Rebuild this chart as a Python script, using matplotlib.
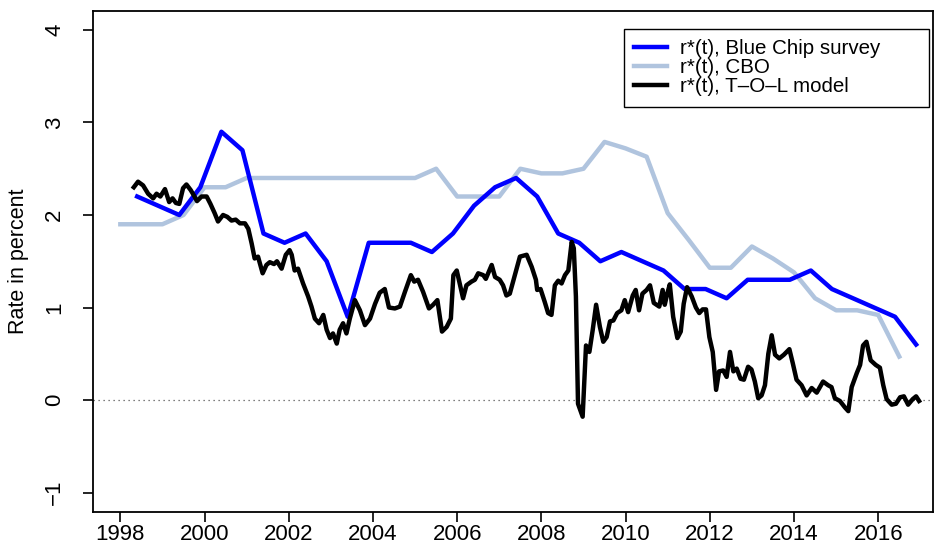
import matplotlib
matplotlib.use("Agg")
import matplotlib.pyplot as plt

plt.rcParams['font.family'] = ['Liberation Sans', 'DejaVu Sans']

# Blue Chip survey (semiannual)
bc_year = [1998.4, 1998.9, 1999.4, 1999.9, 2000.4, 2000.9, 2001.4, 2001.9, 2002.4, 2002.9,
           2003.4, 2003.9, 2004.4, 2004.9, 2005.4, 2005.9, 2006.4, 2006.9, 2007.4, 2007.9,
           2008.4, 2008.9, 2009.4, 2009.9, 2010.4, 2010.9, 2011.4, 2011.9, 2012.4, 2012.9,
           2013.4, 2013.9, 2014.4, 2014.9, 2015.4, 2015.9, 2016.4, 2016.9]
bc_rate = [2.2, 2.1, 2.0, 2.3, 2.9, 2.7, 1.8, 1.7, 1.8, 1.5,
           0.9, 1.7, 1.7, 1.7, 1.6, 1.8, 2.1, 2.3, 2.4, 2.2,
           1.8, 1.7, 1.5, 1.6, 1.5, 1.4, 1.2, 1.2, 1.1, 1.3,
           1.3, 1.3, 1.4, 1.2, 1.1, 1.0, 0.9, 0.6]

# CBO
cbo_year = [1998.0, 1999.0, 1999.5, 2000.0, 2000.5, 2001.0, 2002.0, 2003.0, 2004.0, 2005.0,
            2005.5, 2006.0, 2007.0, 2007.5, 2008.0, 2008.5, 2009.0, 2009.5, 2010.0, 2010.5,
            2011.0, 2011.5, 2012.0, 2012.5, 2013.0, 2013.5, 2014.0, 2014.5, 2015.0, 2015.5,
            2016.0, 2016.5]
cbo_rate = [1.9, 1.9, 2.0, 2.3, 2.3, 2.4, 2.4, 2.4, 2.4, 2.4,
            2.5, 2.2, 2.2, 2.5, 2.45, 2.45, 2.5, 2.79, 2.72, 2.63,
            2.02, 1.73, 1.43, 1.43, 1.66, 1.53, 1.38, 1.1, 0.97, 0.97,
            0.92, 0.47]

# T-O-L model
tol_year = [1998.32, 1998.42, 1998.54, 1998.66, 1998.78, 1998.86, 1998.95, 1999.06, 1999.16, 1999.24,
            1999.32, 1999.40, 1999.49, 1999.57, 1999.67, 1999.75, 1999.82, 1999.93, 2000.05, 2000.14,
            2000.24, 2000.32, 2000.44, 2000.54, 2000.64, 2000.74, 2000.84, 2000.96, 2001.04, 2001.12,
            2001.19, 2001.27, 2001.38, 2001.47, 2001.55, 2001.65, 2001.72, 2001.83, 2001.93, 2002.02,
            2002.07, 2002.14, 2002.22, 2002.34, 2002.46, 2002.54, 2002.62, 2002.72, 2002.82, 2002.90,
            2002.98, 2003.05, 2003.14, 2003.21, 2003.29, 2003.37, 2003.45, 2003.57, 2003.69, 2003.81,
            2003.93, 2004.05, 2004.16, 2004.28, 2004.38, 2004.52, 2004.64, 2004.76, 2004.90, 2004.98,
            2005.07, 2005.19, 2005.33, 2005.43, 2005.53, 2005.64, 2005.75, 2005.85, 2005.91, 2005.99,
            2006.06, 2006.14, 2006.22, 2006.34, 2006.42, 2006.50, 2006.62, 2006.68, 2006.82, 2006.90,
            2007.01, 2007.09, 2007.17, 2007.25, 2007.37, 2007.49, 2007.65, 2007.77, 2007.87, 2007.90,
            2007.98, 2008.08, 2008.16, 2008.24, 2008.32, 2008.40, 2008.48, 2008.56, 2008.64, 2008.72,
            2008.77, 2008.82, 2008.87, 2008.98, 2009.06, 2009.14, 2009.22, 2009.30, 2009.39, 2009.47,
            2009.55, 2009.63, 2009.71, 2009.80, 2009.90, 2009.98, 2010.06, 2010.17, 2010.24, 2010.32,
            2010.40, 2010.50, 2010.58, 2010.67, 2010.80, 2010.88, 2010.93, 2010.99, 2011.05, 2011.13,
            2011.23, 2011.31, 2011.38, 2011.46, 2011.57, 2011.67, 2011.75, 2011.83, 2011.91, 2011.99,
            2012.07, 2012.15, 2012.22, 2012.32, 2012.40, 2012.48, 2012.56, 2012.64, 2012.73, 2012.81,
            2012.91, 2012.99, 2013.07, 2013.15, 2013.23, 2013.31, 2013.39, 2013.47, 2013.55, 2013.65,
            2013.76, 2013.89, 2013.97, 2014.06, 2014.18, 2014.30, 2014.42, 2014.54, 2014.69, 2014.81,
            2014.89, 2014.97, 2015.09, 2015.21, 2015.29, 2015.37, 2015.49, 2015.57, 2015.64, 2015.72,
            2015.82, 2015.94, 2016.04, 2016.12, 2016.20, 2016.32, 2016.42, 2016.52, 2016.61, 2016.71,
            2016.82, 2016.90, 2016.97]
tol_rate = [2.30, 2.36, 2.32, 2.23, 2.18, 2.23, 2.20, 2.28, 2.14, 2.18,
            2.13, 2.12, 2.29, 2.33, 2.27, 2.21, 2.15, 2.20, 2.20, 2.12,
            2.02, 1.93, 2.00, 1.98, 1.94, 1.95, 1.91, 1.91, 1.85, 1.69,
            1.53, 1.55, 1.37, 1.46, 1.49, 1.47, 1.50, 1.42, 1.57, 1.62,
            1.57, 1.40, 1.42, 1.26, 1.12, 1.01, 0.88, 0.83, 0.92, 0.76,
            0.67, 0.72, 0.61, 0.76, 0.83, 0.72, 0.88, 1.08, 0.97, 0.81,
            0.88, 1.04, 1.16, 1.20, 1.00, 0.99, 1.01, 1.17, 1.35, 1.28,
            1.30, 1.17, 0.99, 1.03, 1.08, 0.74, 0.79, 0.88, 1.35, 1.40,
            1.26, 1.10, 1.24, 1.28, 1.30, 1.37, 1.35, 1.31, 1.46, 1.33,
            1.30, 1.24, 1.13, 1.15, 1.35, 1.55, 1.57, 1.44, 1.30, 1.19,
            1.20, 1.06, 0.94, 0.92, 1.24, 1.29, 1.26, 1.35, 1.40, 1.71,
            1.64, 1.12, -0.04, -0.18, 0.59, 0.52, 0.76, 1.03, 0.79, 0.63,
            0.68, 0.85, 0.86, 0.94, 0.97, 1.08, 0.95, 1.13, 1.19, 0.97,
            1.15, 1.19, 1.24, 1.05, 1.01, 1.19, 1.03, 1.15, 1.25, 0.90,
            0.67, 0.74, 1.04, 1.22, 1.12, 1.00, 0.94, 0.98, 0.98, 0.68,
            0.52, 0.11, 0.31, 0.32, 0.25, 0.52, 0.31, 0.34, 0.23, 0.22,
            0.36, 0.33, 0.20, 0.02, 0.05, 0.16, 0.50, 0.70, 0.49, 0.45,
            0.49, 0.55, 0.40, 0.22, 0.16, 0.05, 0.13, 0.08, 0.20, 0.16,
            0.14, 0.02, -0.01, -0.08, -0.12, 0.14, 0.29, 0.38, 0.59, 0.63,
            0.43, 0.38, 0.35, 0.16, 0.01, -0.05, -0.04, 0.03, 0.04, -0.05,
            0.01, 0.04, -0.01]

fig = plt.figure(figsize=(9.4, 5.5), dpi=100)
ax = fig.add_axes([0.0989, 0.0691, 0.8936, 0.9109])

ax.axhline(0, color='#555555', linestyle=(0, (1, 3)), linewidth=0.9, zorder=1)
ax.plot(bc_year, bc_rate, color='#0000FF', linewidth=3.2, label='r*(t), Blue Chip survey', zorder=3)
ax.plot(cbo_year, cbo_rate, color='#B0C4DE', linewidth=3.2, label='r*(t), CBO', zorder=2)
ax.plot(tol_year, tol_rate, color='black', linewidth=3.2, label='r*(t), T\u2013O\u2013L model', zorder=4)

ax.set_xlim(1997.35, 2017.3)
ax.set_ylim(-1.21, 4.205)
ax.set_xticks(range(1998, 2017, 2))
ax.set_yticks(range(-1, 5))
ax.set_yticklabels(['\u22121', '0', '1', '2', '3', '4'], rotation=90, va='center')
ax.tick_params(direction='out', length=7, width=1.2)
ax.tick_params(axis='x', labelsize=16, pad=2)
ax.tick_params(axis='y', labelsize=16, pad=13)
for lab in ax.get_xticklabels():
    lab.set_family(['Liberation Sans Narrow', 'Liberation Sans', 'DejaVu Sans'])
ax.set_ylabel('Rate in percent', fontsize=15.5)
ax.yaxis.set_label_coords(-0.076, 0.5)
for s in ax.spines.values():
    s.set_linewidth(1.3)

leg = ax.legend(loc='upper left', bbox_to_anchor=(0.632, 0.808, 0.363, 0.156), mode='expand',
                fontsize=14.8, frameon=True, fancybox=False, edgecolor='black', framealpha=1,
                labelspacing=0.0, handlelength=1.6, handletextpad=0.62, borderpad=0.5,
                borderaxespad=0)
leg.get_frame().set_linewidth(1.0)

plt.savefig('out.png', dpi=100)
